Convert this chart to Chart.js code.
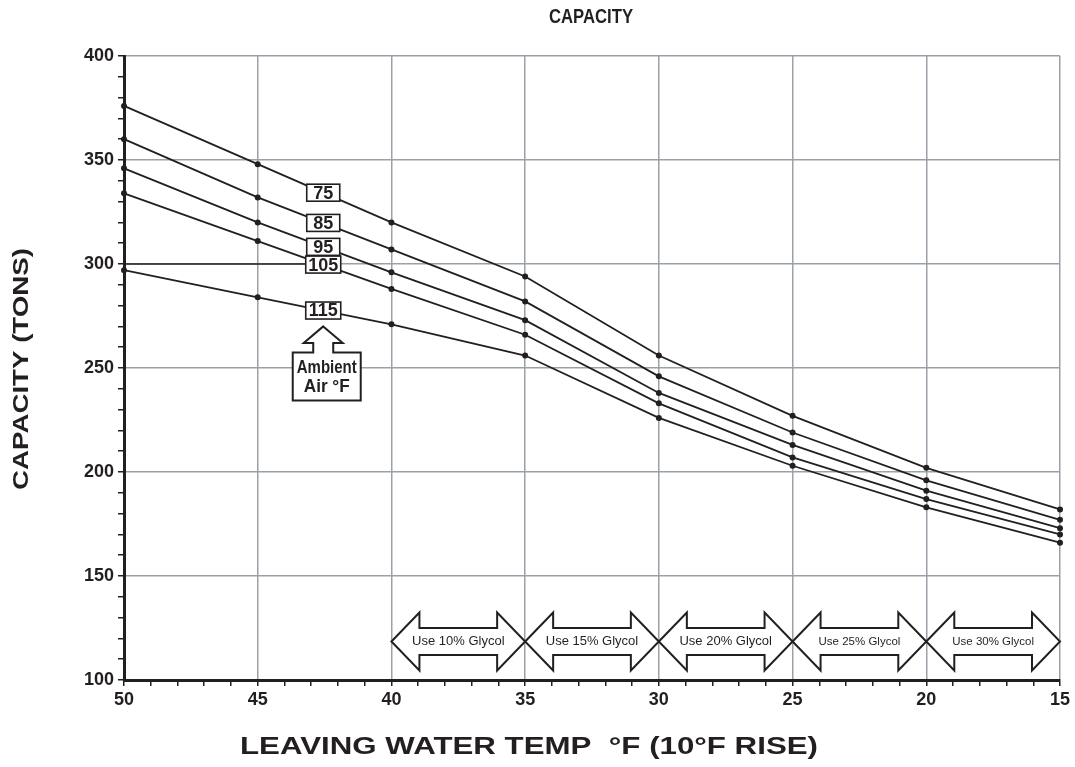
<!DOCTYPE html>
<html>
<head>
<meta charset="utf-8">
<script src="https://cdn.jsdelivr.net/npm/chart.js@4.4.0/dist/chart.umd.min.js"></script>
<style>
  html, body { margin: 0; padding: 0; background: #fff; }
  #wrap { width: 1075px; height: 767px; position: relative; }
</style>
</head>
<body>
<div id="wrap"><canvas id="capacityChart"></canvas></div>
<script>
// leaving water temp (°F) and capacity (tons) per ambient air temp
const leavingTemps = [50, 45, 40, 35, 30, 25, 20, 15];
const cap75  = [376, 348, 320, 294, 256, 227, 202, 182];
const cap85  = [360, 332, 307, 282, 246, 219, 196, 177];
const cap95  = [346, 320, 296, 273, 238, 213, 191, 173];
const cap105 = [334, 311, 288, 266, 233, 207, 187, 170];
const cap115 = [297, 284, 271, 256, 226, 203, 183, 166];
const ambientLabels = ['75', '85', '95', '105', '115'];
const labelTemp = 42.55;

// dark leader on the 300 line, from axis to the "105" box
const leaderX = [50, 42.55];
const leaderY = [300, 300];

const glycolLabels = ['Use 10% Glycol', 'Use 15% Glycol', 'Use 20% Glycol', 'Use 25% Glycol', 'Use 30% Glycol'];
const glycolFrom = [40, 35, 30, 25, 20];
const glycolTo   = [35, 30, 25, 20, 15];
const glycolCap = 118.5;
const ambientArrowCap = 270;

const INK = '#231f20';
const GRID = '#9aa1a8';

const allSeries = [cap75, cap85, cap95, cap105, cap115];

function toPoints(vals) {
    return leavingTemps.map((t, i) => ({ x: t, y: vals[i] }));
}

function valueAt(vals, t) {
    for (let i = 0; i < leavingTemps.length - 1; i++) {
        const a = leavingTemps[i], b = leavingTemps[i + 1];
        if (t <= a && t >= b) {
            const f = (a - t) / (a - b);
            return vals[i] + f * (vals[i + 1] - vals[i]);
        }
    }
    return vals[0];
}

// draws text squeezed/stretched to a given width
function stretchText(ctx, text, x, y, font, width, angle) {
    ctx.save();
    ctx.font = font;
    const w = ctx.measureText(text).width;
    ctx.translate(x, y);
    if (angle) ctx.rotate(angle);
    ctx.scale(width / w, 1);
    ctx.textAlign = 'center';
    ctx.textBaseline = 'middle';
    ctx.fillStyle = INK;
    ctx.fillText(text, 0, 0);
    ctx.restore();
}

const overlays = {
    id: 'overlays',
    afterDatasetsDraw(chart) {
        const ctx = chart.ctx;
        const xs = chart.scales.x, ys = chart.scales.y;

        // ambient temp boxes sitting on the lines
        ctx.save();
        allSeries.forEach((vals, i) => {
            const cx = xs.getPixelForValue(labelTemp);
            const cy = ys.getPixelForValue(valueAt(vals, labelTemp));
            const w = ambientLabels[i].length > 2 ? 35 : 33;
            const h = 17;
            ctx.fillStyle = '#fff';
            ctx.strokeStyle = INK;
            ctx.lineWidth = 1.6;
            ctx.fillRect(cx - w / 2, cy - h / 2, w, h);
            ctx.strokeRect(cx - w / 2, cy - h / 2, w, h);
            ctx.fillStyle = INK;
            ctx.font = 'bold 18px "Liberation Sans", Arial, sans-serif';
            ctx.textAlign = 'center';
            ctx.textBaseline = 'middle';
            ctx.fillText(ambientLabels[i], cx, cy + 1);
        });

        // "Ambient Air °F" up arrow
        const ax = xs.getPixelForValue(labelTemp);
        const ay = ys.getPixelForValue(ambientArrowCap);
        ctx.beginPath();
        ctx.moveTo(ax, ay);
        ctx.lineTo(ax + 19.5, ay + 16.5);
        ctx.lineTo(ax + 10, ay + 16.5);
        ctx.lineTo(ax + 10, ay + 26);
        ctx.lineTo(ax + 37.5, ay + 26);
        ctx.lineTo(ax + 37.5, ay + 74);
        ctx.lineTo(ax - 30.5, ay + 74);
        ctx.lineTo(ax - 30.5, ay + 26);
        ctx.lineTo(ax - 10, ay + 26);
        ctx.lineTo(ax - 10, ay + 16.5);
        ctx.lineTo(ax - 19.5, ay + 16.5);
        ctx.closePath();
        ctx.fillStyle = '#fff';
        ctx.fill();
        ctx.lineWidth = 2;
        ctx.strokeStyle = INK;
        ctx.stroke();
        stretchText(ctx, 'Ambient', ax + 3.5, ay + 42, 'bold 18px "Liberation Sans", Arial, sans-serif', 60);
        stretchText(ctx, 'Air °F', ax + 3.5, ay + 61, 'bold 18px "Liberation Sans", Arial, sans-serif', 46);

        // glycol double arrows
        const cy = ys.getPixelForValue(glycolCap);
        const H = 29, S = 13.5, L = 28;
        glycolLabels.forEach((txt, i) => {
            const xa = xs.getPixelForValue(glycolFrom[i]);
            const xb = xs.getPixelForValue(glycolTo[i]);
            ctx.beginPath();
            ctx.moveTo(xa, cy);
            ctx.lineTo(xa + L, cy - H);
            ctx.lineTo(xa + L, cy - S);
            ctx.lineTo(xb - L, cy - S);
            ctx.lineTo(xb - L, cy - H);
            ctx.lineTo(xb, cy);
            ctx.lineTo(xb - L, cy + H);
            ctx.lineTo(xb - L, cy + S);
            ctx.lineTo(xa + L, cy + S);
            ctx.lineTo(xa + L, cy + H);
            ctx.closePath();
            ctx.fillStyle = '#fff';
            ctx.fill();
            ctx.lineWidth = 2;
            ctx.strokeStyle = INK;
            ctx.stroke();
            ctx.fillStyle = INK;
            ctx.font = (i < 3 ? '13px' : '11.5px') + ' "Liberation Sans", Arial, sans-serif';
            ctx.textAlign = 'center';
            ctx.textBaseline = 'middle';
            ctx.fillText(txt, (xa + xb) / 2, cy);
        });
        ctx.restore();
    },
    afterDraw(chart) {
        const ctx = chart.ctx;
        stretchText(ctx, 'CAPACITY', 591, 17, 'bold 20px "Liberation Sans", Arial, sans-serif', 84);
        stretchText(ctx, 'CAPACITY (TONS)', 22, 369, 'bold 22px "Liberation Sans", Arial, sans-serif', 242, -Math.PI / 2);
        stretchText(ctx, 'LEAVING WATER TEMP  °F (10°F RISE)', 529, 748, 'bold 23px "Liberation Sans", Arial, sans-serif', 578);
    }
};

const lineStyle = {
    borderColor: INK,
    backgroundColor: INK,
    borderWidth: 1.8,
    pointRadius: 3,
    pointHoverRadius: 3,
    pointBackgroundColor: INK,
    pointBorderWidth: 0,
    tension: 0,
    clip: false
};

const ctx = document.getElementById('capacityChart').getContext('2d');
const chart = new Chart(ctx, {
    type: 'line',
    data: {
        datasets: [
            { label: 'leader', data: leaderX.map((x, i) => ({ x: x, y: leaderY[i] })), borderColor: INK, borderWidth: 1.5, pointRadius: 0 },
            Object.assign({ label: '75',  data: toPoints(cap75) },  lineStyle),
            Object.assign({ label: '85',  data: toPoints(cap85) },  lineStyle),
            Object.assign({ label: '95',  data: toPoints(cap95) },  lineStyle),
            Object.assign({ label: '105', data: toPoints(cap105) }, lineStyle),
            Object.assign({ label: '115', data: toPoints(cap115) }, lineStyle)
        ]
    },
    options: {
        responsive: true,
        maintainAspectRatio: false,
        animation: false,
        layout: { padding: { top: 56, right: 15, left: 0, bottom: 0 } },
        plugins: {
            legend: { display: false },
            tooltip: { enabled: false },
            title: { display: false }
        },
        scales: {
            x: {
                type: 'linear',
                reverse: true,
                min: 15,
                max: 50,
                afterFit: (s) => { s.height = 87; },
                border: { color: INK, width: 3 },
                grid: {
                    color: (c) => (c.tick && c.tick.value % 5 === 0 ? GRID : 'rgba(0,0,0,0)'),
                    lineWidth: 1.5,
                    tickColor: INK,
                    tickWidth: 1.5,
                    tickLength: 6
                },
                ticks: {
                    stepSize: 1,
                    autoSkip: false,
                    maxRotation: 0,
                    padding: 3,
                    color: INK,
                    font: { family: '"Liberation Sans", Arial, sans-serif', size: 18, weight: 'bold' },
                    callback: (v) => (v % 5 === 0 ? v : '')
                }
            },
            y: {
                min: 100,
                max: 400,
                afterFit: (s) => { s.width = 124; },
                border: { color: INK, width: 3 },
                grid: {
                    color: (c) => (c.tick && c.tick.value % 50 === 0 ? GRID : 'rgba(0,0,0,0)'),
                    lineWidth: 1.5,
                    tickColor: INK,
                    tickWidth: 1.5,
                    tickLength: 6
                },
                ticks: {
                    stepSize: 10,
                    autoSkip: false,
                    padding: 4,
                    color: INK,
                    font: { family: '"Liberation Sans", Arial, sans-serif', size: 18, weight: 'bold' },
                    callback: (v) => (v % 50 === 0 ? v : '')
                }
            }
        }
    },
    plugins: [overlays]
});
</script>
</body>
</html>
